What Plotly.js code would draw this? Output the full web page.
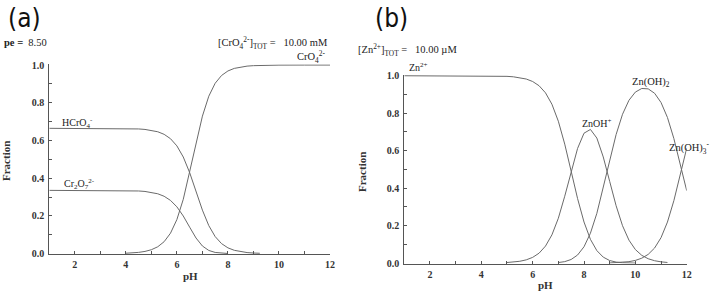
<!DOCTYPE html>
<html>
<head>
<meta charset="utf-8">
<script src="https://cdn.plot.ly/plotly-3.0.1.min.js"></script>
<style>html,body{margin:0;padding:0;background:#fff;}#chart{width:713px;height:292px;}</style>
</head>
<body>
<div id="chart"></div>
<script>
// ---- Data ----
// Panel (a): chromium(VI) speciation, pe = 8.50, [CrO4 2-]TOT = 10.00 mM
const hcro4PH = [1, 2, 3, 4, 4.25, 4.5, 4.75, 5, 5.25, 5.5, 5.75, 6, 6.25, 6.5, 6.75, 7, 7.25, 7.5, 7.75, 8, 8.25, 8.5, 8.75, 9, 9.25];
const hcro4Frac = [0.6645, 0.6645, 0.6644, 0.6634, 0.6626, 0.6612, 0.6586, 0.6541, 0.6463, 0.6326, 0.6094, 0.5713, 0.5124, 0.4298, 0.3301, 0.2306, 0.1485, 0.0904, 0.0531, 0.0306, 0.0175, 0.0099, 0.0056, 0.0032, 0.0018];

const cr2o7PH = [1, 2, 3, 4, 4.25, 4.5, 4.75, 5, 5.25, 5.5, 5.75, 6, 6.25, 6.5, 6.75, 7, 7.25, 7.5, 7.75, 8];
const cr2o7Frac = [0.3355, 0.3355, 0.3354, 0.3345, 0.3337, 0.3322, 0.3297, 0.3252, 0.3174, 0.3041, 0.2822, 0.2481, 0.1995, 0.1404, 0.0828, 0.0404, 0.0168, 0.0062, 0.0021, 0.0007];

const cro4PH = [4, 4.25, 4.5, 4.75, 5, 5.25, 5.5, 5.75, 6, 6.25, 6.5, 6.75, 7, 7.25, 7.5, 7.75, 8, 8.25, 8.5, 8.75, 9, 9.25, 9.5, 10, 11, 12];
const cro4Frac = [0.0021, 0.0037, 0.0066, 0.0117, 0.0207, 0.0363, 0.0633, 0.1084, 0.1807, 0.2881, 0.4298, 0.5871, 0.7291, 0.8348, 0.9035, 0.9447, 0.9687, 0.9823, 0.9901, 0.9944, 0.9968, 0.9982, 0.9990, 0.9997, 1.0, 1.0];

// Panel (b): zinc speciation, [Zn2+]TOT = 10.00 µM
const znPH = [1, 2, 3, 4, 4.5, 5, 5.25, 5.5, 5.75, 6, 6.25, 6.5, 6.75, 7, 7.25, 7.5, 7.75, 8, 8.25, 8.5, 8.75, 9, 9.25, 9.5, 9.75, 10];
const znFrac = [1, 1, 1, 0.9997, 0.999, 0.9968, 0.9944, 0.9901, 0.9825, 0.9693, 0.9467, 0.9088, 0.8481, 0.7574, 0.6350, 0.4902, 0.3443, 0.2193, 0.1269, 0.0667, 0.0319, 0.0138, 0.0055, 0.0020, 0.0007, 0.0002];

const znohPH = [5, 5.25, 5.5, 5.75, 6, 6.25, 6.5, 6.75, 7, 7.25, 7.5, 7.75, 8, 8.25, 8.5, 8.75, 9, 9.25, 9.5, 9.75, 10, 10.25, 10.5, 10.75, 11, 11.25];
const znohFrac = [0.0032, 0.0056, 0.0099, 0.0175, 0.0307, 0.0532, 0.0909, 0.1508, 0.2395, 0.3571, 0.4902, 0.6123, 0.6934, 0.7134, 0.6674, 0.5666, 0.4362, 0.3065, 0.1996, 0.1227, 0.0725, 0.0416, 0.0234, 0.0128, 0.0068, 0.0035];

const znoh2PH = [7, 7.25, 7.5, 7.75, 8, 8.25, 8.5, 8.75, 9, 9.25, 9.5, 9.75, 10, 10.25, 10.5, 10.75, 11, 11.25, 11.5, 11.75, 12];
const znoh2Frac = [0.0030, 0.0080, 0.0195, 0.0433, 0.0873, 0.1597, 0.2657, 0.4011, 0.5491, 0.6861, 0.7945, 0.8689, 0.9128, 0.9321, 0.9300, 0.9064, 0.8573, 0.7774, 0.6650, 0.5283, 0.3867];

const znoh3PH = [9, 9.25, 9.5, 9.75, 10, 10.25, 10.5, 10.75, 11, 11.25, 11.5, 11.75, 12];
const znoh3Frac = [0.0009, 0.0019, 0.0040, 0.0077, 0.0145, 0.0263, 0.0466, 0.0808, 0.1359, 0.2191, 0.3333, 0.4709, 0.6129];

const xTickVals = [2, 4, 6, 8, 10, 12];
const yTickVals = [0, 0.2, 0.4, 0.6, 0.8, 1.0];

// ---- Styling / layout ----
const W = 713, H = 292;
const SERIF = '"Liberation Serif", "Times New Roman", serif';
const NARROW = '"DejaVu Sans Condensed", "Liberation Sans Narrow", sans-serif';
const lineStyle = {color: '#6a6a6a', width: 1};
const AX = '#555';
const NB = '\u00a0';

function tr(x, y, xa, ya) {
  return {x: x, y: y, xaxis: xa, yaxis: ya, type: 'scatter', mode: 'lines',
          line: lineStyle, hoverinfo: 'skip', showlegend: false};
}

const traces = [
  tr(hcro4PH, hcro4Frac, 'x', 'y'),
  tr(cr2o7PH, cr2o7Frac, 'x', 'y'),
  tr(cro4PH, cro4Frac, 'x', 'y'),
  tr(znPH, znFrac, 'x2', 'y2'),
  tr(znohPH, znohFrac, 'x2', 'y2'),
  tr(znoh2PH, znoh2Frac, 'x2', 'y2'),
  tr(znoh3PH, znoh3Frac, 'x2', 'y2')
];

const tickFont = {family: SERIF, size: 10, color: '#333', weight: 'bold'};

function xAxis(x0, x1, anchor) {
  return {domain: [x0 / W, x1 / W], range: [1, 12], anchor: anchor,
          tickvals: xTickVals, ticktext: xTickVals.map(String),
          ticks: 'inside', ticklen: 3, tickwidth: 1, tickcolor: AX,
          minor: {dtick: 1, tick0: 1, ticks: 'inside', ticklen: 3, tickcolor: AX, showgrid: false},
          showline: true, linecolor: AX, linewidth: 1, ticklabelstandoff: 1,
          showgrid: false, zeroline: false, tickfont: tickFont, fixedrange: true};
}
function yAxis(yBottom, yTop, anchor) {
  return {domain: [1 - yBottom / H, 1 - yTop / H], range: [-0.002, 1.004], anchor: anchor,
          tickvals: yTickVals, ticktext: yTickVals.map(v => v.toFixed(1)),
          ticks: 'inside', ticklen: 3, tickwidth: 1, tickcolor: AX,
          minor: {dtick: 0.1, tick0: 0, ticks: 'inside', ticklen: 3, tickcolor: AX, showgrid: false},
          showline: true, linecolor: AX, linewidth: 1, ticklabelstandoff: 2,
          showgrid: false, zeroline: false, tickfont: tickFont, fixedrange: true};
}

function ann(text, x, y, opt) {
  opt = opt || {};
  return {text: text, xref: 'paper', yref: 'paper', x: x / W, y: 1 - y / H,
          xanchor: opt.xanchor || 'left', yanchor: 'middle', showarrow: false,
          textangle: opt.angle || 0,
          font: {family: opt.family || SERIF, size: opt.size || 10.5, color: opt.color || '#222',
                 weight: opt.weight || 'normal'}};
}

const annotations = [
  ann('(a)', 6, 18, {family: NARROW, size: 26, color: '#111'}),
  ann('(b)', 373, 18, {family: NARROW, size: 26, color: '#111'}),
  ann('<b>pe =</b>' + NB + NB + '8.50', 2, 42, {size: 10.5}),
  ann('[CrO<sub>4</sub><sup>2-</sup>]<sub>TOT</sub> =' + NB + NB + ' 10.00 mM', 216, 43, {size: 10.5}),
  ann('CrO<sub>4</sub><sup>2-</sup>', 295, 57, {size: 10.5}),
  ann('HCrO<sub>4</sub><sup>-</sup>', 60, 123, {size: 10}),
  ann('Cr<sub>2</sub>O<sub>7</sub><sup>2-</sup>', 62, 184, {size: 10}),
  ann('[Zn<sup>2+</sup>]<sub>TOT</sub> =' + NB + NB + ' 10.00 µM', 356, 50, {size: 10.5}),
  ann('Zn<sup>2+</sup>', 407, 67, {size: 10}),
  ann('ZnOH<sup>+</sup>', 580, 123, {size: 10}),
  ann('Zn(OH)<sub>2</sub>', 630, 82, {size: 10.5}),
  ann('Zn(OH)<sub>3</sub><sup>-</sup>', 667, 148, {size: 10.5}),
  ann('Fraction', 6, 161, {xanchor: 'center', angle: -90, size: 11, weight: 'bold', color: '#333'}),
  ann('Fraction', 362, 172, {xanchor: 'center', angle: -90, size: 11, weight: 'bold', color: '#333'}),
  ann('pH', 190, 276, {xanchor: 'center', size: 11, weight: 'bold', color: '#333'}),
  ann('pH', 545, 285, {xanchor: 'center', size: 11, weight: 'bold', color: '#333'})
];

const layout = {
  width: W, height: H,
  margin: {l: 0, r: 0, t: 0, b: 0, pad: 0},
  paper_bgcolor: '#fff', plot_bgcolor: '#fff',
  showlegend: false,
  xaxis: xAxis(49.3, 330, 'y'),
  yaxis: yAxis(254, 64.3, 'x'),
  xaxis2: xAxis(404.3, 686.7, 'y2'),
  yaxis2: yAxis(263.5, 75, 'x2'),
  annotations: annotations,
  font: {family: SERIF}
};

Plotly.newPlot('chart', traces, layout, {staticPlot: true, displayModeBar: false});
</script>
</body>
</html>
